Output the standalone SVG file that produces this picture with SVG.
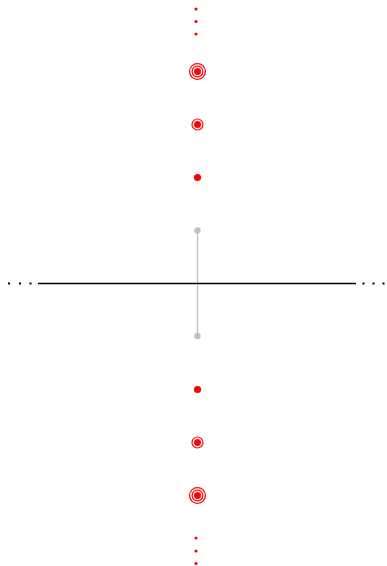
<svg xmlns="http://www.w3.org/2000/svg" width="387" height="566" viewBox="0 0 387 566">
<style>
.dot{fill:#ff0000}
.ring{fill:none;stroke:#ff0000;stroke-width:1.2}
.gray{fill:#c0c0c0}
.dd{fill:#000}
</style>
<rect width="387" height="566" fill="#fff"/>
<g id="connectors">
<line x1="197.5" y1="230.5" x2="197.5" y2="336" stroke="#c0c0c0" stroke-width="1.3"/>
<line x1="38" y1="283.5" x2="356" y2="283.5" stroke="#000" stroke-width="1.3"/>
</g>
<g id="top-dots">
<circle class="dot" cx="196" cy="9" r="1.6"/>
<circle class="dot" cx="196" cy="21.5" r="1.6"/>
<circle class="dot" cx="196" cy="34" r="1.6"/>
</g>
<g id="target-top-large">
<circle class="ring" cx="197.5" cy="71.5" r="7.9"/>
<circle class="ring" cx="197.5" cy="71.5" r="5.4"/>
<circle class="dot" cx="197.5" cy="71.5" r="3.5"/>
</g>
<g id="target-top-small">
<circle class="ring" cx="197.5" cy="124.5" r="5.5"/>
<circle class="dot" cx="197.5" cy="124.5" r="3.5"/>
</g>
<g id="dot-top">
<circle class="dot" cx="197.5" cy="177.5" r="3.6"/>
</g>
<g id="gray-top"><circle class="gray" cx="197.5" cy="230.5" r="3.2"/></g>
<g id="gray-bottom"><circle class="gray" cx="197.5" cy="336" r="3.2"/></g>
<g id="left-dots">
<rect class="dd" x="8" y="282.5" width="2" height="2"/>
<rect class="dd" x="19" y="282.5" width="2" height="2"/>
<rect class="dd" x="29.5" y="282.5" width="2" height="2"/>
</g>
<g id="right-dots">
<rect class="dd" x="362.5" y="282.5" width="2" height="2"/>
<rect class="dd" x="372.5" y="282.5" width="2" height="2"/>
<rect class="dd" x="382.5" y="282.5" width="2" height="2"/>
</g>
<g id="dot-bottom">
<circle class="dot" cx="197.5" cy="389.5" r="3.6"/>
</g>
<g id="target-bottom-small">
<circle class="ring" cx="197.5" cy="442.5" r="5.5"/>
<circle class="dot" cx="197.5" cy="442.5" r="3.5"/>
</g>
<g id="target-bottom-large">
<circle class="ring" cx="197.5" cy="495.5" r="7.9"/>
<circle class="ring" cx="197.5" cy="495.5" r="5.4"/>
<circle class="dot" cx="197.5" cy="495.5" r="3.5"/>
</g>
<g id="bottom-dots">
<circle class="dot" cx="196" cy="538" r="1.6"/>
<circle class="dot" cx="196" cy="551" r="1.6"/>
<circle class="dot" cx="196" cy="563.5" r="1.6"/>
</g>
</svg>
